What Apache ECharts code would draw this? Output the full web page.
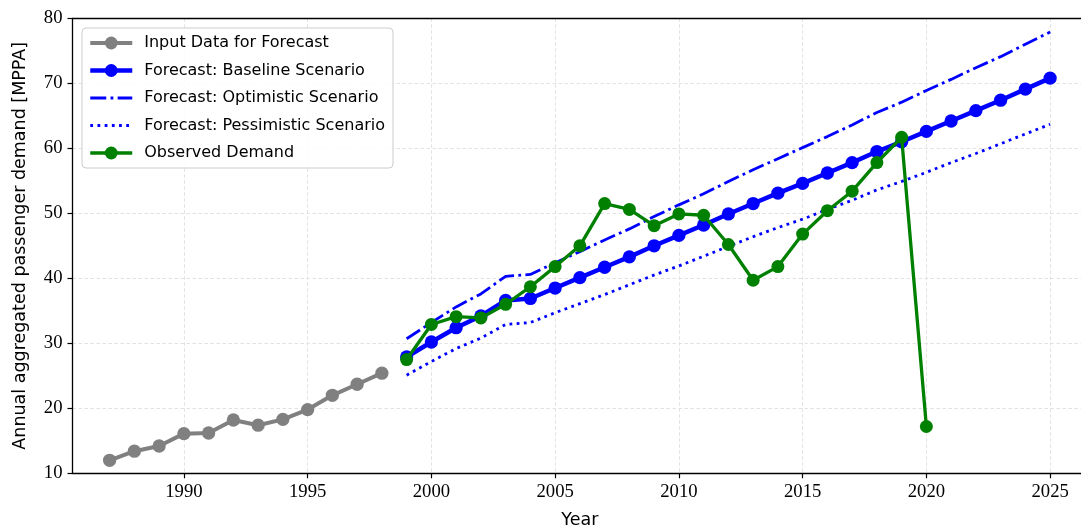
<!DOCTYPE html>
<html>
<head>
<meta charset="utf-8">
<script src="https://cdn.jsdelivr.net/npm/echarts@6/dist/echarts.min.js"></script>
<style>
  html, body { margin: 0; padding: 0; background: #ffffff; }
  #chart { width: 1081px; height: 527px; }
</style>
</head>
<body>
<div id="chart"></div>
<script>
// Historical input used to build the forecast
const inputYears = [1987, 1988, 1989, 1990, 1991, 1992, 1993, 1994, 1995, 1996, 1997, 1998];
const inputDemand = [12.0, 13.4, 14.2, 16.1, 16.2, 18.2, 17.4, 18.3, 19.8, 22.0, 23.7, 25.4];

// Forecast horizon and the three scenarios
const forecastYears = [1999, 2000, 2001, 2002, 2003, 2004, 2005, 2006, 2007, 2008, 2009, 2010, 2011, 2012,
  2013, 2014, 2015, 2016, 2017, 2018, 2019, 2020, 2021, 2022, 2023, 2024, 2025];
const baseline = [27.9, 30.2, 32.4, 34.2, 36.6, 36.9, 38.5, 40.1, 41.7, 43.3, 45.0, 46.6, 48.2, 49.9,
  51.5, 53.1, 54.6, 56.2, 57.8, 59.5, 61.0, 62.6, 64.2, 65.8, 67.4, 69.1, 70.8];
const optimistic = [30.7, 33.2, 35.6, 37.6, 40.3, 40.6, 42.4, 44.1, 45.9, 47.6, 49.5, 51.3, 53.0, 54.9,
  56.7, 58.4, 60.1, 61.8, 63.6, 65.5, 67.1, 68.9, 70.6, 72.4, 74.1, 76.0, 77.9];
const pessimistic = [25.1, 27.2, 29.2, 30.8, 32.9, 33.2, 34.7, 36.1, 37.5, 39.0, 40.5, 41.9, 43.4, 44.9,
  46.4, 47.8, 49.1, 50.6, 52.0, 53.6, 54.9, 56.3, 57.8, 59.2, 60.7, 62.2, 63.7];

// Observed demand
const observedYears = [1999, 2000, 2001, 2002, 2003, 2004, 2005, 2006, 2007, 2008, 2009, 2010, 2011,
  2012, 2013, 2014, 2015, 2016, 2017, 2018, 2019, 2020];
const observed = [27.5, 32.9, 34.1, 33.9, 36.0, 38.7, 41.8, 45.0, 51.5, 50.6, 48.1, 49.9, 49.7,
  45.2, 39.7, 41.8, 46.8, 50.4, 53.4, 57.8, 61.7, 17.2];

// Axis ticks
const xTicks = [1990, 1995, 2000, 2005, 2010, 2015, 2020, 2025];
const yTicks = [10, 20, 30, 40, 50, 60, 70, 80];

const zip = (xs, ys) => xs.map((x, i) => [x, ys[i]]);

const SERIF = '"Liberation Serif", "DejaVu Serif", serif';
const SANS = '"DejaVu Sans", sans-serif';
const gridLine = { color: '#e2e2e2', width: 1, type: [3.5, 2.5] };
const NONE = 'rgba(0,0,0,0)';
const X_MIN = 1985.5, X_MAX = 2026.5;

// Line widths shared by the series and their legend entries
const W_INPUT = 4, W_BASE = 4.5, W_SCEN = 2.8, W_OBS = 3.3;

const chart = echarts.init(document.getElementById('chart'), null, { renderer: 'canvas' });

chart.setOption({
  animation: false,
  backgroundColor: '#ffffff',
  grid: {
    left: 72.5, top: 18.3, width: 1014.75, height: 455,
    containLabel: false, outerBoundsMode: 'none', show: false
  },
  xAxis: [
    {
      type: 'value',
      min: X_MIN,
      max: X_MAX,
      name: 'Year',
      nameLocation: 'middle',
      nameGap: 38,
      nameTextStyle: { fontFamily: SANS, fontSize: 17.5, color: '#000' },
      axisLine: { show: true, lineStyle: { color: '#000', width: 1.3 } },
      axisTick: { show: true, customValues: xTicks, length: 5, lineStyle: { color: '#000', width: 1.2 } },
      axisLabel: {
        customValues: xTicks, fontFamily: SERIF, fontSize: 18.7, color: '#000', margin: 9,
        formatter: v => String(v)
      },
      splitLine: { show: true, lineStyle: gridLine }
    },
    {
      // top frame line
      type: 'value',
      position: 'top',
      min: X_MIN,
      max: X_MAX,
      axisLine: { show: true, lineStyle: { color: '#000', width: 1.3 } },
      axisTick: { show: false },
      axisLabel: { show: false },
      splitLine: { show: false }
    }
  ],
  yAxis: {
    type: 'value',
    min: yTicks[0],
    max: yTicks[yTicks.length - 1],
    interval: 10,
    name: 'Annual aggregated passenger demand [MPPA]',
    nameLocation: 'middle',
    nameGap: 43,
    nameRotate: 90,
    nameTextStyle: { fontFamily: SANS, fontSize: 17.5, color: '#000' },
    axisLine: { show: true, lineStyle: { color: '#000', width: 1.3 } },
    axisTick: { show: true, length: 5, lineStyle: { color: '#000', width: 1.2 } },
    axisLabel: { fontFamily: SERIF, fontSize: 18.7, color: '#000', margin: 10 },
    splitLine: { show: true, lineStyle: gridLine }
  },
  legend: {
    orient: 'vertical',
    left: 82,
    top: 28,
    padding: [5, 8, 5, 6],
    itemWidth: 42,
    itemHeight: 16,
    itemGap: 7.5,
    backgroundColor: 'rgba(255,255,255,0.85)',
    borderColor: '#cccccc',
    borderWidth: 1,
    borderRadius: 4,
    textStyle: { fontFamily: SANS, fontSize: 16, color: '#000', lineHeight: 20, padding: [0, 0, 0, 7] },
    data: [
      { name: 'Input Data for Forecast', lineStyle: { width: W_INPUT } },
      { name: 'Forecast: Baseline Scenario', lineStyle: { width: W_BASE } },
      { name: 'Forecast: Optimistic Scenario', itemStyle: { opacity: 0 }, lineStyle: { width: W_SCEN } },
      { name: 'Forecast: Pessimistic Scenario', itemStyle: { opacity: 0 }, lineStyle: { width: W_SCEN } },
      { name: 'Observed Demand', lineStyle: { width: W_OBS } }
    ]
  },
  series: [
    {
      name: 'Input Data for Forecast',
      type: 'line',
      data: zip(inputYears, inputDemand),
      symbol: 'circle', symbolSize: 13.3,
      lineStyle: { color: '#808080', width: W_INPUT },
      itemStyle: { color: '#808080' },
      z: 3
    },
    {
      name: 'Forecast: Baseline Scenario',
      type: 'line',
      data: zip(forecastYears, baseline),
      symbol: 'circle', symbolSize: 13.3,
      lineStyle: { color: '#0000ff', width: W_BASE },
      itemStyle: { color: '#0000ff' },
      z: 3
    },
    {
      name: 'Forecast: Optimistic Scenario',
      type: 'line',
      data: zip(forecastYears, optimistic),
      symbol: 'none', showSymbol: false,
      lineStyle: { color: '#0000ff', width: W_SCEN, type: [16, 4.3, 2.8, 4.3], cap: 'butt' },
      itemStyle: { color: NONE },
      z: 3
    },
    {
      name: 'Forecast: Pessimistic Scenario',
      type: 'line',
      data: zip(forecastYears, pessimistic),
      symbol: 'none', showSymbol: false,
      lineStyle: { color: '#0000ff', width: W_SCEN, type: [2.8, 4.4], cap: 'butt' },
      itemStyle: { color: NONE },
      z: 3
    },
    {
      name: 'Observed Demand',
      type: 'line',
      data: zip(observedYears, observed),
      symbol: 'circle', symbolSize: 13,
      lineStyle: { color: '#008000', width: W_OBS },
      itemStyle: { color: '#008000' },
      z: 4
    }
  ]
});
</script>
</body>
</html>
